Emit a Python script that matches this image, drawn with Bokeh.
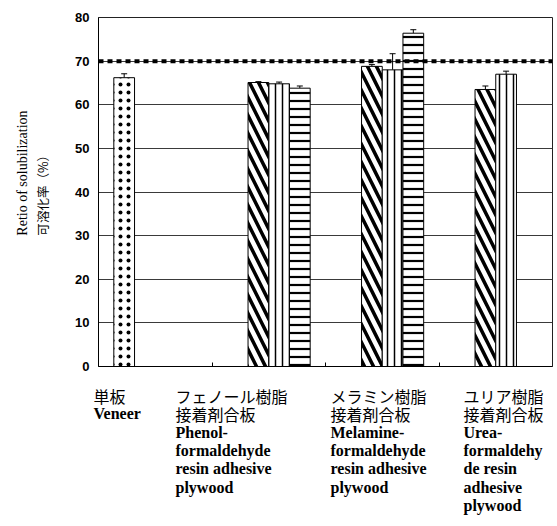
import math
from bokeh.plotting import figure
from bokeh.layouts import column, row
from bokeh.models import (ColumnDataSource, Whisker, TeeHead, Span,
                          FixedTicker, Range1d)
from bokeh.core.properties import value
from bokeh.embed import file_html
from bokeh.resources import INLINE

# ---------------- data ----------------
categories = ["Veneer", "Phenol", "Melamine", "Urea"]
nan = float("nan")
veneer_vals = [66.2, nan, nan, nan]
veneer_err = [0.9, nan, nan, nan]
diag_vals = [nan, 65.1, 68.8, 63.5]
diag_err = [nan, 0.2, 0.4, 0.8]
vert_vals = [nan, 64.8, 68.0, 67.0]
vert_err = [nan, 0.4, 3.7, 0.7]
horiz_vals = [nan, 63.8, 76.4, nan]
horiz_err = [nan, 0.5, 0.8, nan]
reference_level = 70
y_ticks = [0, 10, 20, 30, 40, 50, 60, 70, 80]

cat_labels = [
    ["単板", "Veneer"],
    ["フェノール樹脂", "接着剤合板", "Phenol-", "formaldehyde", "resin adhesive", "plywood"],
    ["メラミン樹脂", "接着剤合板", "Melamine-", "formaldehyde", "resin adhesive", "plywood"],
    ["ユリア樹脂", "接着剤合板", "Urea-", "formaldehy", "de resin", "adhesive", "plywood"],
]
ylabel_en = "Retio of solubilization"
ylabel_ja = "可溶化率（%）"

# ---------------- layout constants ----------------
YT_W = 68                 # width of the y-title strip
FL, FT, FW, FH = 30, 17, 454, 349
MAIN_W = FL + FW + 2
MAIN_H = FT + FH + 10
BOT_H = 145
TOTAL_W = YT_W + MAIN_W
px_per_cat = FW / len(categories)
bar_w = 0.1825
gap = (1 - 4 * bar_w) / 2

serif = "Liberation Serif"
cjk = "Noto Sans CJK JP"

def blank(fig):
    fig.axis.visible = False
    fig.grid.visible = False
    fig.outline_line_color = None
    fig.min_border = 0
    fig.min_border_left = 0
    fig.min_border_right = 0
    fig.min_border_top = 0
    fig.min_border_bottom = 0

# ---------------- main chart ----------------
p = figure(width=MAIN_W, height=MAIN_H, output_backend="svg", toolbar_location=None,
           x_range=Range1d(0, len(categories)), y_range=Range1d(0, 80),
           min_border_left=FL, min_border_top=FT, min_border_right=MAIN_W - FL - FW,
           min_border_bottom=MAIN_H - FT - FH, background_fill_color="white",
           border_fill_color="white")
p.outline_line_color = "#222222"
p.outline_line_width = 1

p.xgrid.visible = False
p.ygrid.ticker = FixedTicker(ticks=y_ticks)
p.ygrid.grid_line_color = "#3a3a3a"
p.ygrid.grid_line_width = 1

p.yaxis.ticker = FixedTicker(ticks=y_ticks)
p.yaxis.major_tick_in = 0
p.yaxis.major_tick_out = 0
p.yaxis.minor_tick_line_color = None
p.yaxis.axis_line_color = "black"
p.yaxis.major_label_text_font = "Liberation Sans"
p.yaxis.major_label_text_font_style = "bold"
p.yaxis.major_label_text_font_size = "13px"
p.yaxis.major_label_text_color = "black"
p.yaxis.major_label_standoff = 9

p.xaxis.ticker = FixedTicker(ticks=[1, 2, 3])
p.xaxis.major_tick_in = 4
p.xaxis.major_tick_out = 0
p.xaxis.minor_tick_line_color = None
p.xaxis.major_label_overrides = {1: "", 2: "", 3: ""}
p.xaxis.major_label_standoff = 0
p.xaxis.axis_line_color = "black"

series = [
    (veneer_vals, veneer_err, dict(hatch_pattern="dot", hatch_scale=8, hatch_weight=0.6)),
    (diag_vals, diag_err, dict(hatch_pattern="left_diagonal_line", hatch_scale=18, hatch_weight=3.5)),
    (vert_vals, vert_err, dict(hatch_pattern="vertical_line", hatch_scale=7, hatch_weight=1.5)),
    (horiz_vals, horiz_err, dict(hatch_pattern="horizontal_line", hatch_scale=8, hatch_weight=2.2)),
]

for slot, (vals, errs, style) in enumerate(series):
    xs, tops, ups = [], [], []
    for ci, (v, e) in enumerate(zip(vals, errs)):
        if math.isnan(v):
            continue
        xs.append(ci + gap + bar_w * (slot + 0.5))
        tops.append(v)
        ups.append(v + (0 if math.isnan(e) else e))
    src = ColumnDataSource(dict(x=xs, top=tops, upper=ups))
    p.vbar(x="x", top="top", bottom=0, width=bar_w, source=src,
           fill_color="white", line_color="black", line_width=1,
           hatch_color="black", **style)
    p.add_layout(Whisker(base="x", lower="top", upper="upper", source=src,
                         line_color="black", line_width=1, lower_head=None,
                         upper_head=TeeHead(size=6, line_color="black", line_width=1)))

p.add_layout(Span(location=reference_level, dimension="width", line_color="black",
                  line_width=4, line_dash="5 4"))

# ---------------- y-axis title strip ----------------
yt = figure(width=YT_W, height=MAIN_H, output_backend="svg", toolbar_location=None,
            x_range=Range1d(0, YT_W), y_range=Range1d(MAIN_H, 0),
            background_fill_color="white", border_fill_color="white")
blank(yt)
yt.text(x=[22], y=[235], text=[ylabel_en], angle=math.pi / 2, text_align="left",
        text_baseline="middle", text_font=value(serif), text_font_size="14px",
        text_color="black")
yt.text(x=[42], y=[235], text=[ylabel_ja], angle=math.pi / 2, text_align="left",
        text_baseline="middle", text_font=value(cjk), text_font_size="12.5px",
        text_color="black")

# ---------------- category label strip ----------------
x0 = -(YT_W + FL) / px_per_cat
bot = figure(width=TOTAL_W, height=BOT_H, output_backend="svg", toolbar_location=None,
             x_range=Range1d(x0, x0 + TOTAL_W / px_per_cat), y_range=Range1d(BOT_H, 0),
             background_fill_color="white", border_fill_color="white")
blank(bot)
label_offset_px = [-5, 77, 232, 365]   # left edge of each label block, from frame left
first_line_y = 19
line_step = 18.3
jx, jy, jt, ex, ey, et = [], [], [], [], [], []
for ci, lines in enumerate(cat_labels):
    xd = label_offset_px[ci] / px_per_cat
    for li, t in enumerate(lines):
        yy = first_line_y + li * line_step
        if any(ord(ch) > 0x2E80 for ch in t):
            jx.append(xd); jy.append(yy); jt.append(t)
        else:
            ex.append(xd); ey.append(yy); et.append(t)
bot.text(x=jx, y=jy, text=jt, text_align="left", text_baseline="middle",
         text_font=value(cjk), text_font_size="16px", text_color="black")
bot.text(x=ex, y=ey, text=et, text_align="left", text_baseline="middle",
         text_font=value(serif), text_font_style="bold", text_font_size="16px",
         text_color="black")

layout = column(row(yt, p, spacing=0), bot, spacing=0)
open("out.html", "w").write(file_html(layout, INLINE))
